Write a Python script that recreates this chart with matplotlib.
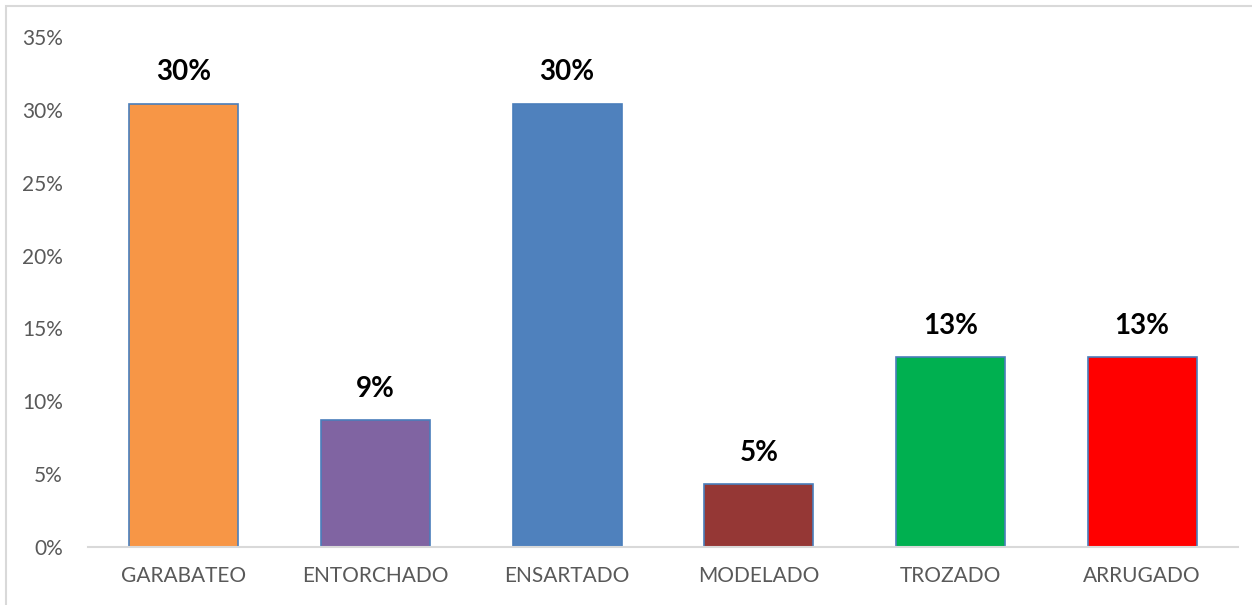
import matplotlib.pyplot as plt
from matplotlib.patches import Rectangle
from matplotlib.ticker import FuncFormatter

# datos del grafico
categorias = ['GARABATEO', 'ENTORCHADO', 'ENSARTADO', 'MODELADO', 'TROZADO', 'ARRUGADO']
valores = [7/23, 2/23, 7/23, 1/23, 3/23, 3/23]
etiquetas = ['30%', '9%', '30%', '5%', '13%', '13%']
colores = ['#f79646', '#8064a2', '#4f81bd', '#953735', '#00b050', '#ff0000']

plt.rcParams['font.family'] = ['Lato', 'DejaVu Sans']

W, H = 1252, 605
fig = plt.figure(figsize=(W / 100, H / 100), dpi=100)

# marco del area del grafico
fig.patches.append(Rectangle((6 / W, -0.1), 1.2, 1 - 6 / H + 0.1,
                             transform=fig.transFigure, fill=False,
                             edgecolor='#d9d9d9', linewidth=1.5))

ax = fig.add_axes([88 / W, 1 - 547 / H, 1150 / W, 510 / H])
x = range(len(categorias))
ax.bar(x, valores, width=0.57, color=colores, edgecolor='#4a7ebb', linewidth=1.2)

for xi, v, t in zip(x, valores, etiquetas):
    ax.annotate(t, (xi, v), xytext=(0, 13), textcoords='offset points',
                ha='center', va='bottom', fontsize=20, fontweight='bold', color='black')

ax.set_xlim(-0.5, len(categorias) - 0.5)
ax.set_ylim(0, 0.35)
ax.set_yticks([i * 0.05 for i in range(8)])
ax.yaxis.set_major_formatter(FuncFormatter(lambda v, p: f'{v * 100:.0f}%'))
ax.set_xticks(list(x))
ax.set_xticklabels(categorias)

for s in ['top', 'right', 'left']:
    ax.spines[s].set_visible(False)
ax.spines['bottom'].set_color('#d9d9d9')
ax.spines['bottom'].set_linewidth(1.5)
ax.tick_params(axis='both', length=0, labelsize=15, labelcolor='#595959')
ax.tick_params(axis='x', pad=14)
ax.tick_params(axis='y', pad=18)

fig.savefig('out.png', dpi=100)
